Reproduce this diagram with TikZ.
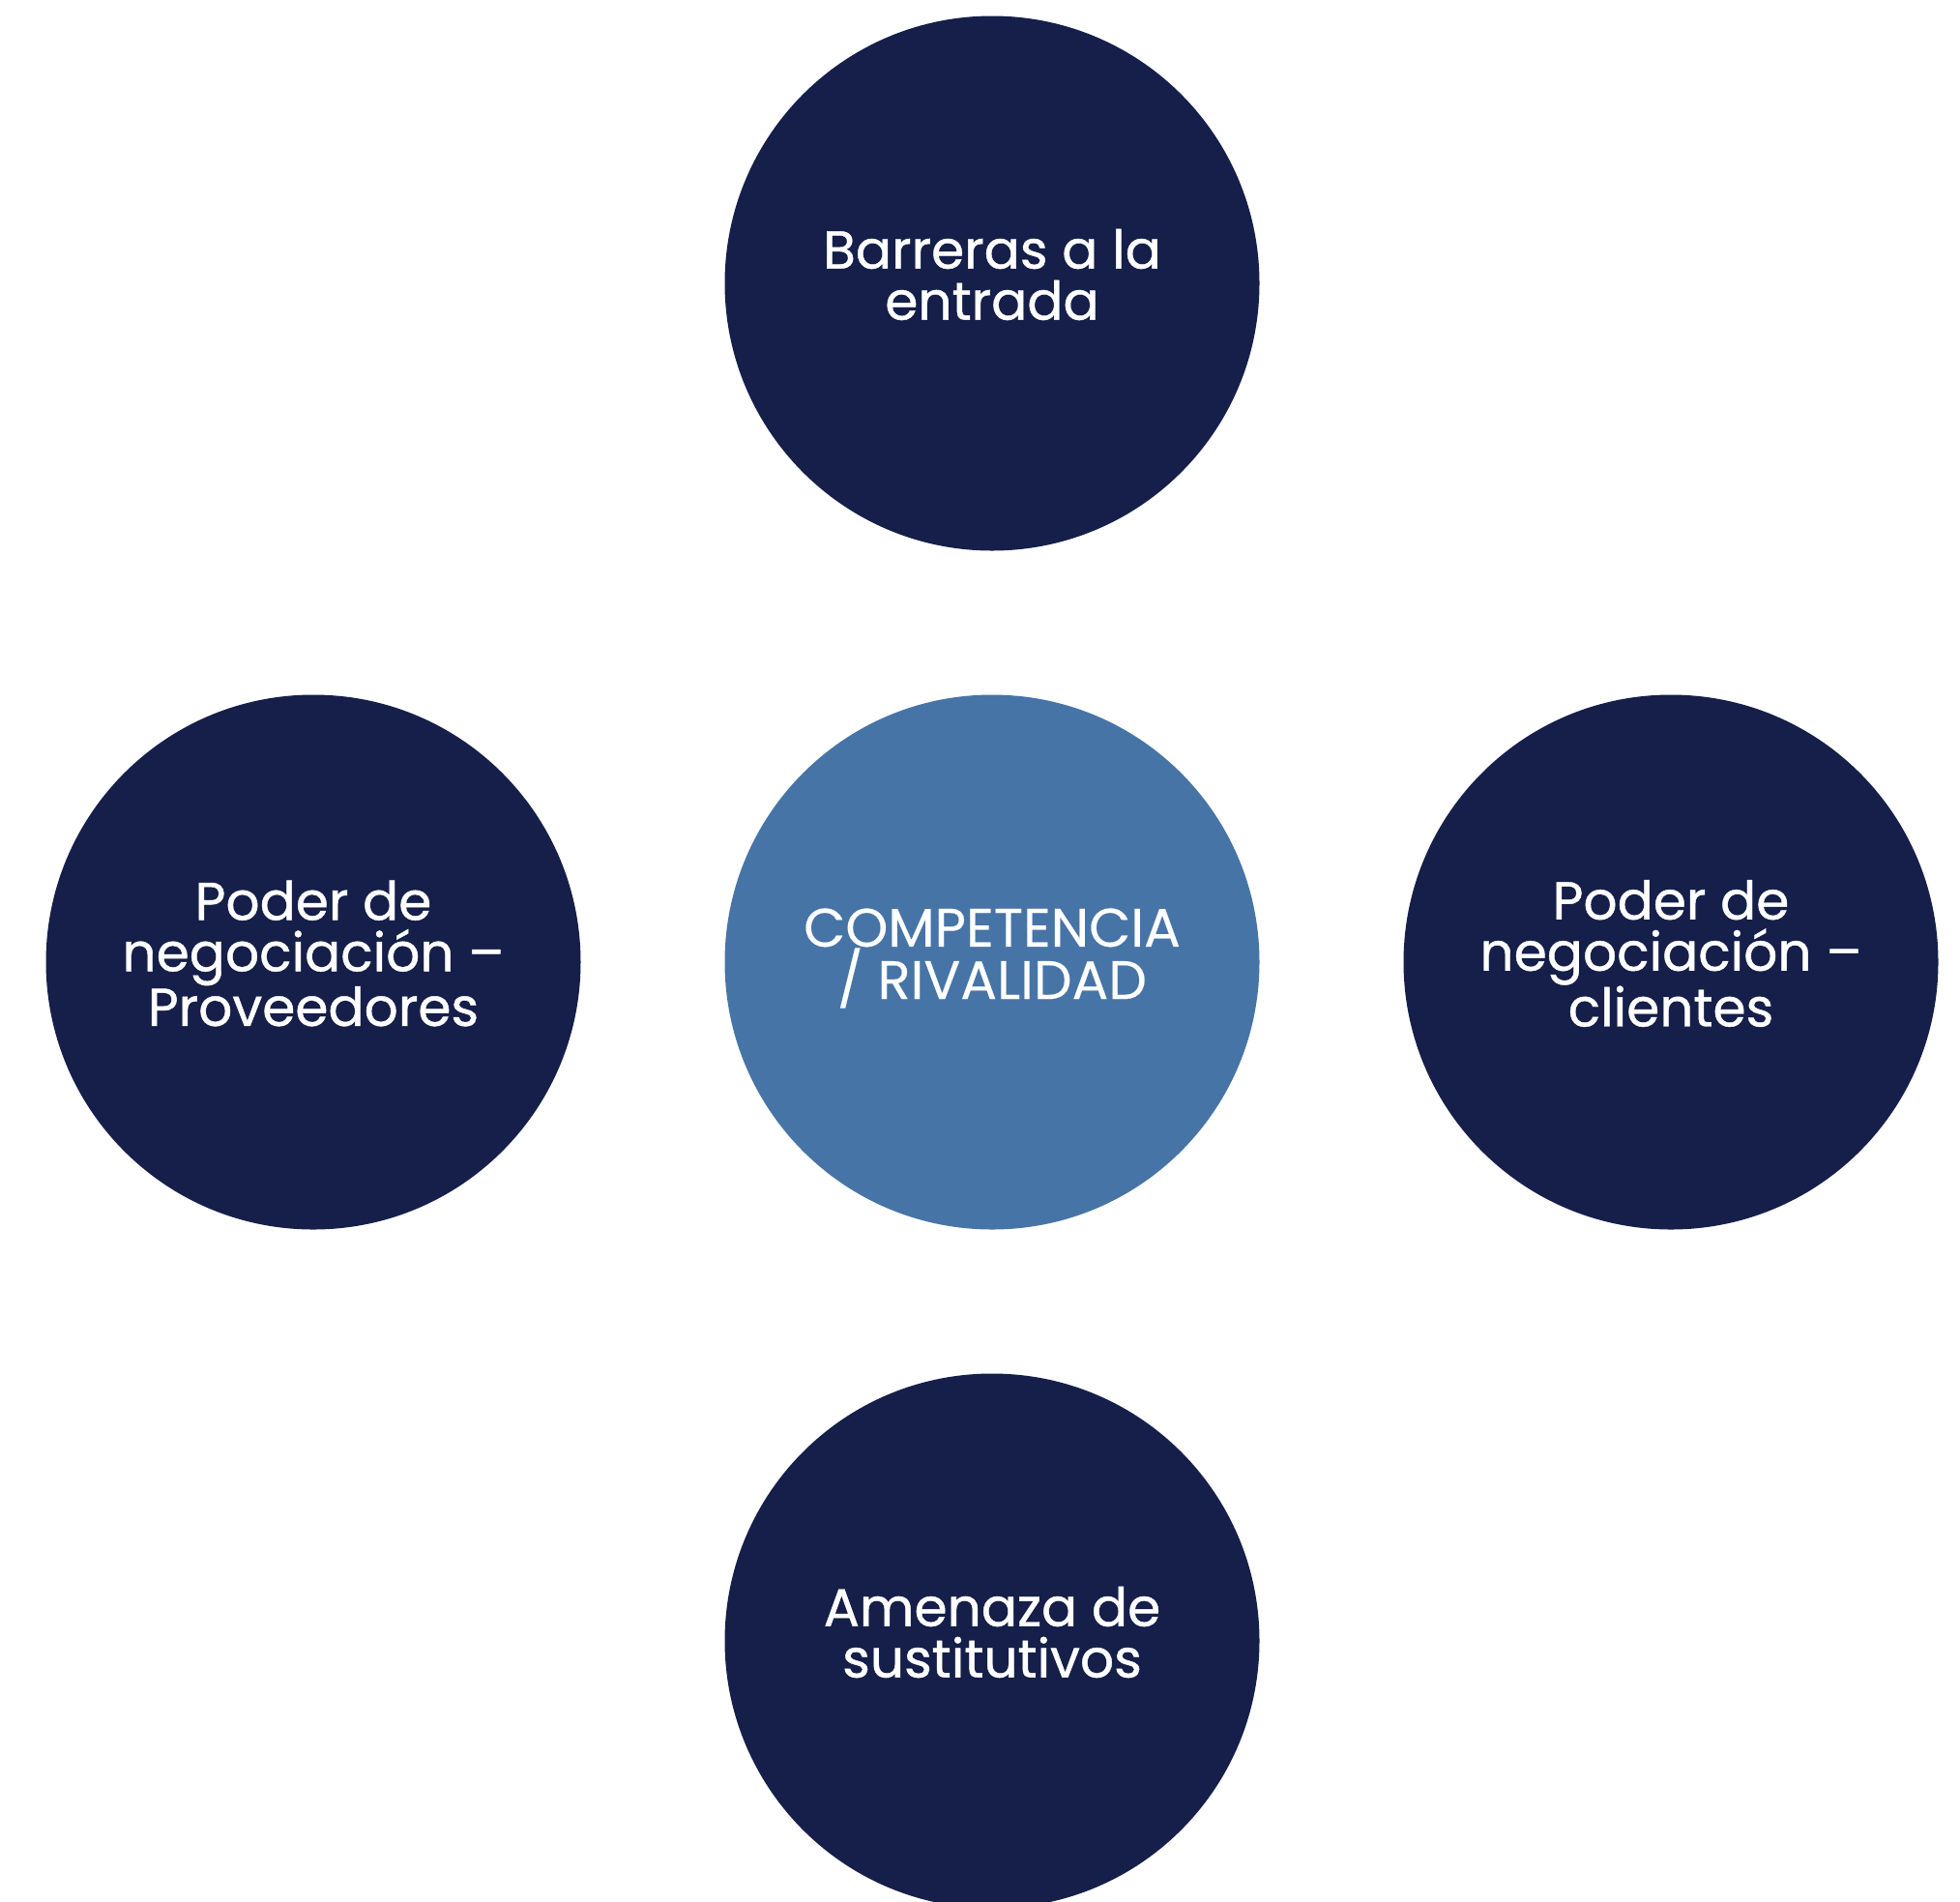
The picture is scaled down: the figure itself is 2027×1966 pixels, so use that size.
\documentclass[tikz,border=0pt]{standalone}
\usepackage{fontspec}
\setmainfont{Poppins}
\newfontfamily\popmed{Poppins}[FakeBold=0.8]
\newfontfamily\popreg{Poppins}[FakeBold=0.3]
\definecolor{navy}{RGB}{21,31,74}
\definecolor{midblue}{RGB}{71,116,166}
\begin{document}
\begin{tikzpicture}[x=1pt,y=-1pt,
  force/.style={circle,fill=navy,minimum size=553pt,inner sep=0pt},
  core/.style={force,fill=midblue},
  lbl/.style={text=white,align=center,inner sep=0pt,font=\popmed\fontsize{55}{53}\selectfont},
  corelbl/.style={lbl,font=\popreg\fontsize{56}{53}\selectfont}]
\useasboundingbox (0,0) rectangle (2027,1966);
\clip (0,0) rectangle (2027,1966);
\node[force] (top) at (1026,293) {};
\node[force] (left) at (324,995) {};
\node[core] (center) at (1026,995) {};
\node[force] (right) at (1728,995) {};
\node[force] (bottom) at (1026,1697) {};
\node[lbl] (topT) at ([yshift=9pt]top.center) {Barreras a la\\entrada};
\node[lbl] (leftT) at ([yshift=9pt]left.center) {Poder de\\negociación –\\Proveedores};
\node[corelbl] (centerT) at ([yshift=4pt]center.center) {COMPETENCIA\\/ RIVALIDAD};
\node[lbl] (rightT) at ([yshift=9pt]right.center) {Poder de\\negociación –\\clientes};
\node[lbl] (bottomT) at ([yshift=9pt]bottom.center) {Amenaza de\\sustitutivos};
\end{tikzpicture}
\end{document}
